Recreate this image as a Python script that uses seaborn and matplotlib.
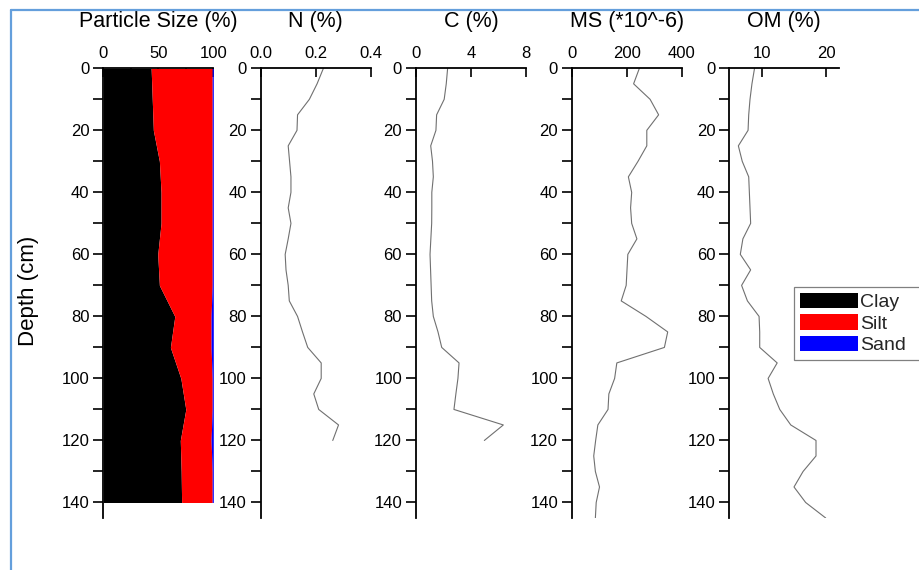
import matplotlib
matplotlib.use("Agg")
import matplotlib.pyplot as plt
import matplotlib.transforms as mtransforms
from matplotlib.patches import Patch
from matplotlib.lines import Line2D
from matplotlib.ticker import MultipleLocator, FixedLocator
import seaborn as sns
import pandas as pd
import numpy as np

# ---------------- data ----------------
ps_depth = [0, 20, 30, 40, 50, 60, 70, 80, 90, 100, 110, 120, 130, 140]
clay = [43.5, 45.5, 51.0, 52.5, 52.5, 49.5, 51.0, 65.0, 61.0, 70.5, 75.0, 70.0, 70.8, 71.2]
silt = [55.5, 53.5, 48.0, 46.5, 46.5, 49.5, 48.0, 33.0, 37.0, 28.5, 24.0, 28.0, 28.2, 27.8]
sand = [1.0, 1.0, 1.0, 1.0, 1.0, 1.0, 1.0, 2.0, 2.0, 1.0, 1.0, 2.0, 1.0, 1.0]

nc_depth = [0, 5, 10, 15, 20, 25, 30, 35, 40, 45, 50, 55, 60, 65, 70, 75, 80, 85, 90,
            95, 100, 105, 110, 115, 120]
n_pct = [0.228, 0.205, 0.177, 0.134, 0.132, 0.100, 0.105, 0.110, 0.110, 0.100, 0.110,
         0.100, 0.089, 0.092, 0.100, 0.104, 0.134, 0.152, 0.171, 0.220, 0.220, 0.193,
         0.211, 0.283, 0.262]
c_pct = [2.30, 2.20, 2.05, 1.50, 1.45, 1.07, 1.20, 1.26, 1.15, 1.15, 1.14, 1.08, 1.02,
         1.06, 1.10, 1.14, 1.26, 1.60, 1.87, 3.13, 3.05, 2.90, 2.76, 6.35, 4.97]

mo_depth = [0, 5, 10, 15, 20, 25, 30, 35, 40, 45, 50, 55, 60, 65, 70, 75, 80, 85, 90,
            95, 100, 105, 110, 115, 120, 125, 130, 135, 140, 145]
ms = [245, 224, 284, 315, 272, 272, 240, 205, 217, 213, 217, 236, 203, 200, 197, 179,
      269, 348, 336, 163, 155, 134, 131, 94, 86, 79, 85, 100, 88, 85]
om = [8.9, 8.5, 8.2, 8.0, 7.9, 6.4, 7.0, 8.0, 8.1, 8.2, 8.3, 7.1, 6.7, 8.3, 6.9, 7.8,
      9.6, 9.7, 9.7, 12.4, 11.0, 11.8, 12.8, 14.5, 18.4, 18.4, 16.4, 15.0, 16.8, 19.9]

titles = ["Particle Size (%)", "N (%)", "C (%)", "MS (*10^-6)", "OM (%)"]
legend_labels = ["Clay", "Silt", "Sand"]
ps_colors = ["#000000", "#ff0000", "#0000ff"]

# ---------------- style ----------------
sns.set_theme(style="ticks")
plt.rcParams["font.family"] = ["Liberation Sans", "DejaVu Sans"]

W, H = 920, 570
fig = plt.figure(figsize=(W / 100, H / 100), dpi=100)
fig.patch.set_facecolor("white")

top_px, bot_px = 68.3, 518.0
lefts_px = [103.3, 260.7, 416.0, 572.0, 729.3]
width_px = 110.0
axes = []
for lp in lefts_px:
    ax = fig.add_axes([lp / W, 1 - bot_px / H, width_px / W, (bot_px - top_px) / H])
    axes.append(ax)

# particle size stacked areas
ps = pd.DataFrame({"depth": ps_depth, "clay": clay, "silt": silt, "sand": sand})
ps["c1"] = ps["clay"]
ps["c2"] = ps["clay"] + ps["silt"]
ps["c3"] = ps["c2"] + ps["sand"]
ax = axes[0]
ax.fill_betweenx(ps["depth"], 0, ps["c1"], color=ps_colors[0], lw=0)
ax.fill_betweenx(ps["depth"], ps["c1"], ps["c2"], color=ps_colors[1], lw=0)
ax.fill_betweenx(ps["depth"], ps["c2"], ps["c3"], color=ps_colors[2], lw=0)

# profiles
line_kw = dict(color="#707070", linewidth=0.8, estimator=None, orient="y")
sns.lineplot(x=n_pct, y=nc_depth, ax=axes[1], **line_kw)
sns.lineplot(x=c_pct, y=nc_depth, ax=axes[2], **line_kw)
sns.lineplot(x=ms, y=mo_depth, ax=axes[3], **line_kw)
sns.lineplot(x=om, y=mo_depth, ax=axes[4], **line_kw)

xlims = [(0, 100), (0, 0.4), (0, 8), (0, 400), (5, 22)]
xticks = [[0, 50, 100], [0, 0.2, 0.4], [0, 4, 8], [0, 200, 400], [10, 20]]
xticklabels = [["0", "50", "100"], ["0.0", "0.2", "0.4"], ["0", "4", "8"],
               ["0", "200", "400"], ["10", "20"]]

for i, ax in enumerate(axes):
    ax.set_xlim(*xlims[i])
    ax.set_ylim(145, 0)
    ax.set_xlabel("")
    ax.set_ylabel("")
    ax.grid(False)
    ax.set_facecolor("none")
    ax.xaxis.tick_top()
    ax.xaxis.set_major_locator(FixedLocator(xticks[i]))
    ax.set_xticklabels(xticklabels[i])
    if i == 0:
        ax.xaxis.set_minor_locator(FixedLocator([25, 75]))
    ax.yaxis.set_major_locator(MultipleLocator(20))
    ax.yaxis.set_minor_locator(MultipleLocator(10))
    for s in ["right", "bottom"]:
        ax.spines[s].set_visible(False)
    for s in ["left", "top"]:
        ax.spines[s].set_linewidth(1.3)
        ax.spines[s].set_color("black")
    ax.tick_params(axis="x", which="both", direction="in", length=6.5, width=1.2,
                   top=True, bottom=False, labeltop=True, labelbottom=False,
                   pad=5.5, labelsize=12, colors="black")
    ax.tick_params(axis="y", which="both", direction="out", length=7, width=1.2,
                   left=True, right=False, pad=3, labelsize=12, colors="black")
    tr = mtransforms.blended_transform_factory(ax.transAxes, fig.transFigure)
    ax.text(0.5, 1 - 21.5 / H, titles[i], transform=tr, ha="center", va="center",
            fontsize=15.5, color="black")

fig.text(29 / W, 1 - 291 / H, "Depth (cm)", rotation=90, ha="center", va="center",
         fontsize=16, color="black")

handles = [Patch(facecolor=c, edgecolor="none") for c in ps_colors]
leg = fig.legend(handles, legend_labels, loc="upper left", mode="expand",
                 bbox_to_anchor=(794 / W, 1 - 359 / H, 150 / W, 72 / H),
                 bbox_transform=fig.transFigure,
                 borderaxespad=0, frameon=True, fancybox=False, framealpha=1,
                 edgecolor="#808080", fontsize=14, handlelength=3.0, handleheight=0.85,
                 handletextpad=0.1, labelspacing=0.15, borderpad=0.3)
leg.get_frame().set_linewidth(0.9)

# screenshot-style blue frame
fig.add_artist(Line2D([11 / W, 11 / W], [0, 1 - 10 / H], transform=fig.transFigure,
                      color="#649fdc", linewidth=1.6))
fig.add_artist(Line2D([11 / W, 1], [1 - 10 / H, 1 - 10 / H], transform=fig.transFigure,
                      color="#649fdc", linewidth=1.6))

fig.savefig("out.png", dpi=100)
